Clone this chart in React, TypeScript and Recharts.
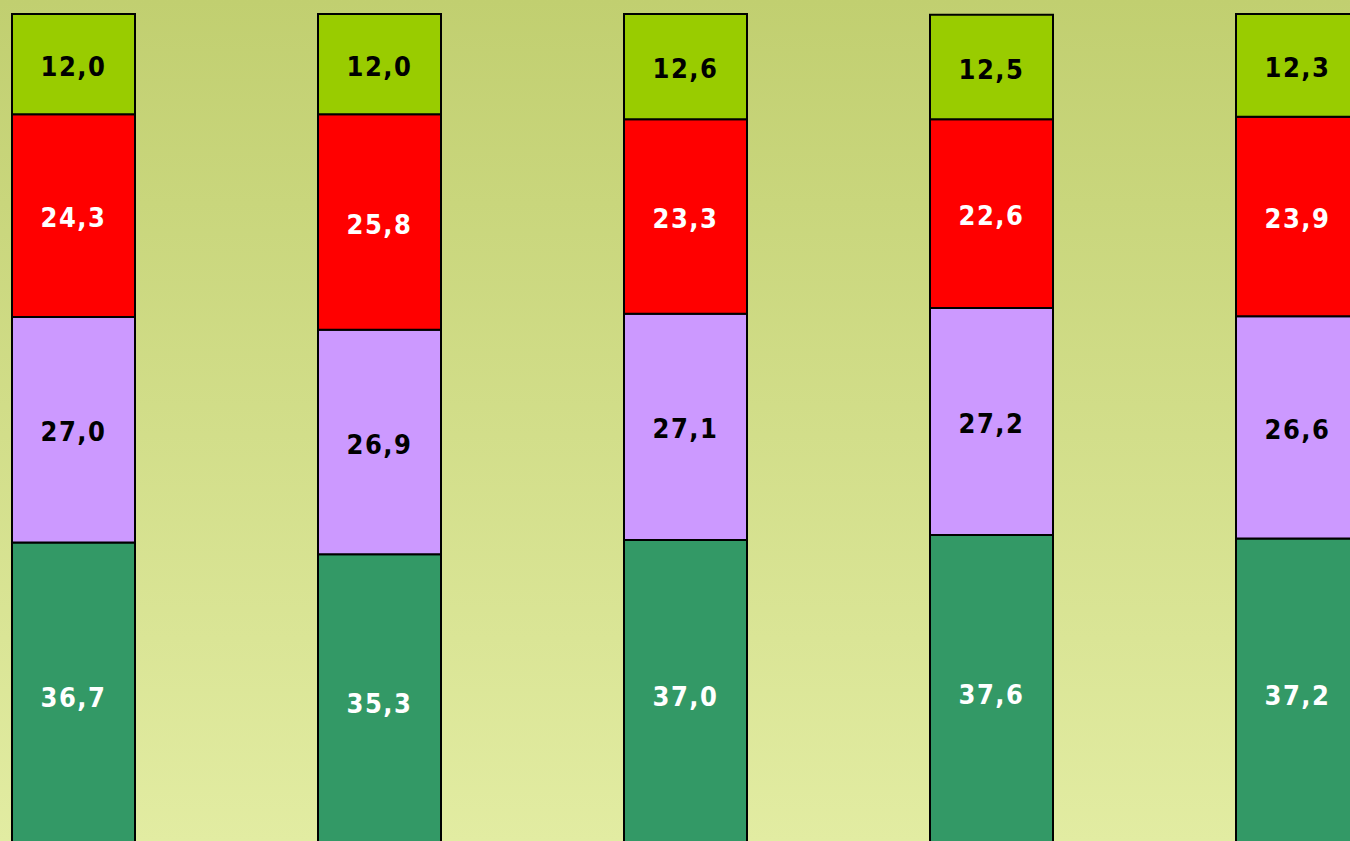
import React from 'react';
import { BarChart, Bar, XAxis, YAxis, LabelList } from 'recharts';

const categories = ['A', 'B', 'C', 'D', 'E'];
const seriesBottom = [36.7, 35.3, 37.0, 37.6, 37.2];
const seriesSecond = [27.0, 26.9, 27.1, 27.2, 26.6];
const seriesThird = [24.3, 25.8, 23.3, 22.6, 23.9];
const seriesTop = [12.0, 12.0, 12.6, 12.5, 12.3];

const chartData = categories.map((name, i) => ({
  name,
  s1: seriesBottom[i],
  s2: seriesSecond[i],
  s3: seriesThird[i],
  s4: seriesTop[i],
}));

const fmt = (v: any) => Number(v).toFixed(1).replace('.', ',');

const labelStyle = (fill: string) => ({
  fill,
  fontSize: 27,
  fontWeight: 700,
  fontFamily: '"DejaVu Sans Condensed", "DejaVu Sans", sans-serif',
  letterSpacing: 1.5,
});

const App: React.FC = () => {
  return (
    <div
      style={{
        position: 'fixed',
        top: 0,
        left: 0,
        width: 1350,
        height: 841,
        overflow: 'hidden',
        background: 'linear-gradient(to bottom, #c1cf70 0%, #e2eca2 100%)',
      }}
    >
      <div style={{ position: 'absolute', top: 0, left: -80.5 }}>
        <BarChart
          width={1530}
          height={849}
          data={chartData}
          margin={{ top: 14, right: 0, left: 0, bottom: 0 }}
          barSize={123}
        >
          <XAxis dataKey="name" hide />
          <YAxis hide domain={[0, 100]} />
          <Bar dataKey="s1" stackId="a" fill="#339966" stroke="#000" strokeWidth={2} isAnimationActive={false}>
            <LabelList dataKey="s1" position="center" formatter={fmt} dy={2} style={labelStyle('#ffffff')} />
          </Bar>
          <Bar dataKey="s2" stackId="a" fill="#cc99ff" stroke="#000" strokeWidth={2} isAnimationActive={false}>
            <LabelList dataKey="s2" position="center" formatter={fmt} dy={2} style={labelStyle('#000000')} />
          </Bar>
          <Bar dataKey="s3" stackId="a" fill="#ff0000" stroke="#000" strokeWidth={2} isAnimationActive={false}>
            <LabelList dataKey="s3" position="center" formatter={fmt} dy={2} style={labelStyle('#ffffff')} />
          </Bar>
          <Bar dataKey="s4" stackId="a" fill="#99cc00" stroke="#000" strokeWidth={2} isAnimationActive={false}>
            <LabelList dataKey="s4" position="center" formatter={fmt} dy={2} style={labelStyle('#000000')} />
          </Bar>
        </BarChart>
      </div>
    </div>
  );
};

export default App;
